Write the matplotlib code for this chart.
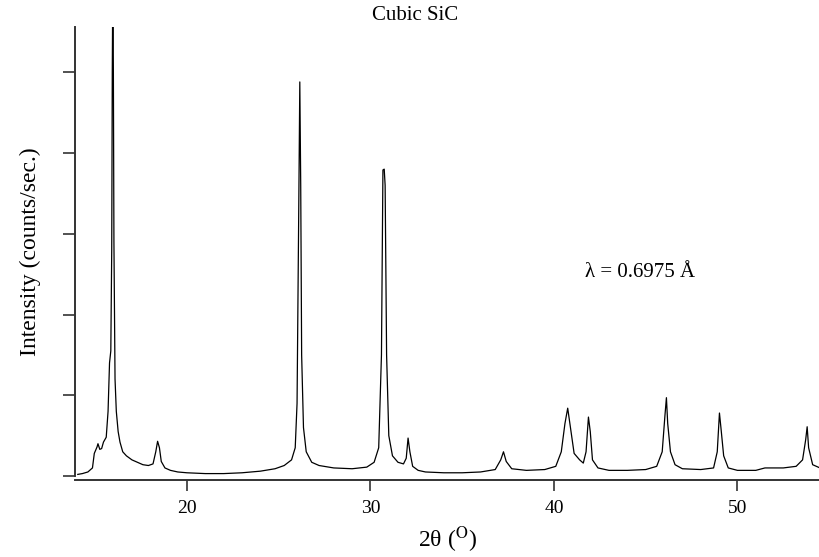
import matplotlib.pyplot as plt

plt.rcParams['font.family'] = ['Liberation Serif', 'DejaVu Serif']
plt.rcParams['mathtext.fontset'] = 'stix'

# 2theta (deg) and intensity (counts/sec)
two_theta = [14.05, 14.3, 14.6, 14.85, 14.95, 15.1, 15.15, 15.25, 15.35, 15.45,
             15.6, 15.7, 15.78, 15.85, 15.9, 15.93, 15.96, 15.99, 16.02, 16.08,
             16.15, 16.25, 16.35, 16.5, 16.7, 17.0, 17.3, 17.6, 17.9, 18.15,
             18.3, 18.4, 18.5, 18.6, 18.8, 19.1, 19.5, 20.0, 21.0, 22.0,
             23.0, 24.0, 24.8, 25.3, 25.7, 25.9, 26.0, 26.1, 26.15, 26.2,
             26.25, 26.35, 26.5, 26.8, 27.2, 28.0, 29.0, 29.8, 30.2, 30.45,
             30.6, 30.68, 30.75, 30.8, 30.88, 31.0, 31.2, 31.5, 31.8, 31.95,
             32.05, 32.15, 32.3, 32.6, 33.0, 34.0, 35.0, 36.0, 36.8, 37.1,
             37.25, 37.4, 37.7, 38.5, 39.5, 40.1, 40.4, 40.6, 40.75, 40.9,
             41.1, 41.4, 41.6, 41.75, 41.88, 41.98, 42.1, 42.4, 43.0, 44.0,
             45.0, 45.6, 45.9, 46.05, 46.13, 46.2, 46.35, 46.6, 47.0, 48.0,
             48.7, 48.9, 49.02, 49.1, 49.25, 49.5, 50.0, 51.0, 51.5, 52.5,
             53.2, 53.55, 53.72, 53.8, 53.88, 54.1, 54.5]
intensity = [20, 30, 50, 100, 280, 360, 400, 330, 340, 420,
             480, 800, 1400, 1550, 2800, 5000, 6200, 5000, 2900, 1200,
             800, 550, 420, 300, 250, 200, 170, 140, 130, 150,
             300, 430, 350, 180, 100, 70, 50, 40, 30, 30,
             40, 60, 90, 130, 200, 350, 900, 3500, 4880, 3600,
             1500, 600, 300, 170, 130, 100, 90, 110, 170, 350,
             1500, 3790, 3800, 3600, 1500, 500, 250, 170, 150, 220,
             470, 300, 120, 70, 50, 40, 40, 50, 80, 200,
             300, 180, 90, 70, 80, 120, 300, 650, 840, 600,
             280, 200, 160, 300, 730, 550, 200, 100, 70, 70,
             80, 120, 300, 750, 970, 650, 300, 140, 90, 80,
             100, 300, 780, 600, 250, 100, 70, 70, 100, 100,
             120, 200, 450, 610, 350, 140, 100]

y_ticks = [0, 1000, 2000, 3000, 4000, 5000]
x_ticks = [20, 30, 40, 50]

fig = plt.figure(figsize=(8.2, 5.57), dpi=100)
ax = fig.add_axes([0.0915, 0.1454, 0.9085, 0.8061])

ax.plot(two_theta, intensity, color='black', linewidth=0.9)

ax.set_xlim(13.9, 54.5)
ax.set_ylim(0, 5560)
ax.set_xticks(x_ticks)
ax.set_yticks(y_ticks)
ax.set_yticklabels([])
ax.tick_params(axis='x', direction='out', length=8, width=1.2,
               labelsize=14, pad=6, color='#333333')
ax.tick_params(axis='y', direction='out', length=9, width=1.2,
               color='#333333')

for side in ['top', 'right']:
    ax.spines[side].set_visible(False)
ax.spines['left'].set_linewidth(1.4)
ax.spines['left'].set_color('#333333')
ax.spines['bottom'].set_linewidth(1.4)
ax.spines['bottom'].set_color('#333333')
ax.spines['bottom'].set_position(('outward', 3))

ax.set_xlabel(r'2θ ($^{\mathrm{O}}$)', fontsize=17, labelpad=6)
ax.set_ylabel('Intensity (counts/sec.)', fontsize=17, labelpad=12)

fig.text(415 / 820, 1 - 15 / 557, 'Cubic SiC', fontsize=15,
         ha='center', va='center')
ax.text(44.7, 2520, 'λ = 0.6975 Å', fontsize=15, ha='center', va='center')

fig.savefig('out.png', dpi=100)
